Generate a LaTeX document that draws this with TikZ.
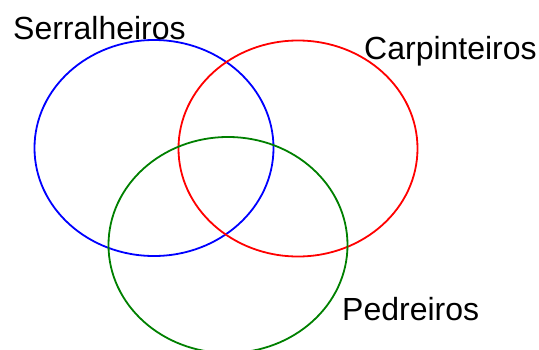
\documentclass[tikz,border=0pt]{standalone}
\usepackage{fontspec}
\setmainfont{Liberation Sans}
\begin{document}
\begin{tikzpicture}[x=1pt,y=-1pt,
  ring/.style={line width=1.8pt},
  lbl/.style={anchor=base west,inner sep=0pt,font=\fontsize{32}{36}\selectfont}]
\useasboundingbox (0,0) rectangle (539,349);
\clip (0,0) rectangle (539,349);
\draw[ring,blue] (154,148) ellipse [x radius=119.5,y radius=108];
\draw[ring,red] (298,148.5) ellipse [x radius=119.5,y radius=108];
\draw[ring,green!50!black] (228,245) ellipse [x radius=119.5,y radius=108];
\node[lbl] (s) at (13,39) {Serralheiros};
\node[lbl] (c) at (364,59) {Carpinteiros};
\node[lbl] (p) at (342,320) {Pedreiros};
\end{tikzpicture}
\end{document}
